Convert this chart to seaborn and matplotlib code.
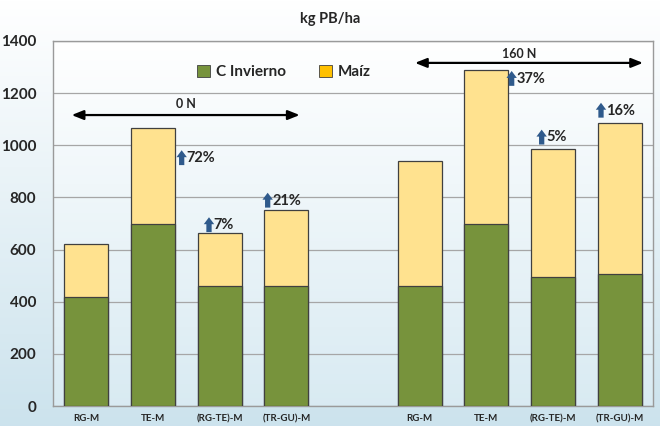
import matplotlib.pyplot as plt
import matplotlib.patches as mpatches
import numpy as np
import pandas as pd
import seaborn as sns

# values (kg PB/ha)
groups = ["0 N", "0 N", "0 N", "0 N", "160 N", "160 N", "160 N", "160 N"]
labels = ["RG-M", "TE-M", "(RG-TE)-M", "(TR-GU)-M", "RG-M", "TE-M", "(RG-TE)-M", "(TR-GU)-M"]
invierno = [420, 700, 460, 460, 460, 700, 495, 505]
maiz = [200, 365, 205, 290, 480, 590, 490, 580]
pct_labels = ["", "72%", "7%", "21%", "", "37%", "5%", "16%"]

GREEN = "#77933c"
YELLOW = "#ffe28f"
YELLOW_LEG = "#ffc000"
EDGE = "#404040"

df = pd.DataFrame({"group": groups, "label": labels, "invierno": invierno, "maiz": maiz})
df["total"] = df["invierno"] + df["maiz"]
df["key"] = df["group"] + " " + df["label"]
order = list(df["key"][:4]) + ["gap"] + list(df["key"][4:])

sns.set_style("white")
plt.rcParams["font.family"] = ["Lato", "DejaVu Sans"]

fig = plt.figure(figsize=(6.6, 4.26), dpi=100)

# figure background gradient
bg = fig.add_axes([0, 0, 1, 1], zorder=-10)
grad = np.linspace(0, 1, 256).reshape(-1, 1)
top = np.array([1.0, 1.0, 1.0])
bot = np.array([0.80, 0.89, 0.93])
img = top + (bot - top) * grad[:, :, None]
bg.imshow(img, aspect="auto", extent=[0, 1, 0, 1])
bg.axis("off")

ax = fig.add_axes([53 / 660, 20 / 426, 600 / 660, 365 / 426])
ax.set_facecolor("none")

sns.barplot(data=df, x="key", y="total", order=order, color=YELLOW, width=0.66,
            edgecolor=EDGE, linewidth=0.9, saturation=1, ax=ax, zorder=3)
sns.barplot(data=df, x="key", y="invierno", order=order, color=GREEN, width=0.66,
            edgecolor=EDGE, linewidth=0.9, saturation=1, ax=ax, zorder=4)

# plot area gradient
pa = np.array([1.0, 1.0, 1.0]) + (np.array([0.85, 0.92, 0.95]) - 1.0) * grad[:, :, None]
ax.imshow(pa, aspect="auto", extent=[-0.5, 8.5, 0, 1400], zorder=0)

ax.set_xlim(-0.5, 8.5)
ax.set_ylim(0, 1400)
ax.set_yticks(range(0, 1401, 200))
ax.set_yticklabels([str(v) for v in range(0, 1401, 200)], fontsize=11, fontweight="bold")
ax.set_xticks(range(9))
ax.set_xticklabels(labels[:4] + [""] + labels[4:], fontsize=7, fontweight="bold")
ax.tick_params(axis="both", length=0)
ax.tick_params(axis="y", pad=12)
ax.tick_params(axis="x", pad=6)
ax.set_xlabel("")
ax.set_ylabel("")
ax.grid(axis="y", color="#a6a6a6", linewidth=0.9, zorder=1)
ax.set_axisbelow(True)
for s in ax.spines.values():
    s.set_color("#9a9a9a")
    s.set_linewidth(1)

fig.text(0.5, 0.955, "kg PB/ha", ha="center", va="center", fontsize=10.5, fontweight="bold")

# group arrows
arrow_kw = dict(arrowstyle="<|-|>,head_width=0.28,head_length=0.7", color="black", lw=1.6,
                shrinkA=0, shrinkB=0)
ax.annotate("", xy=(-0.22, 1116), xytext=(3.2, 1116), arrowprops=arrow_kw, zorder=6)
ax.text(1.5, 1160, "0 N", ha="center", va="center", fontsize=9, fontweight="bold")
ax.annotate("", xy=(4.93, 1316), xytext=(8.35, 1316), arrowprops=arrow_kw, zorder=6)
ax.text(6.5, 1352, "160 N", ha="center", va="center", fontsize=9, fontweight="bold")

# percentage increases
pct_pos = [None, (1.43, 951), (1.84, 694), (2.72, 788), None, (6.38, 1255), (6.83, 1030), (7.72, 1133)]
for txt, pos in zip(pct_labels, pct_pos):
    if not txt:
        continue
    x, y = pos
    ax.annotate("", xy=(x, y + 30), xytext=(x, y - 27),
                arrowprops=dict(arrowstyle="simple,head_width=0.75,head_length=0.5,tail_width=0.38",
                                color="#2f5a8c", lw=0, shrinkA=0, shrinkB=0), zorder=6)
    ax.text(x + 0.07, y, txt, ha="left", va="center", fontsize=10.5, fontweight="bold", zorder=6)

handles = [mpatches.Patch(facecolor=GREEN, edgecolor=EDGE, linewidth=0.6, label="C Invierno"),
           mpatches.Patch(facecolor=YELLOW_LEG, edgecolor=EDGE, linewidth=0.6, label="Maíz")]
leg = ax.legend(handles=handles, loc="center", bbox_to_anchor=(0.385, 0.915), ncol=2, frameon=False,
                prop={"size": 11, "weight": "bold"}, handlelength=0.8, handleheight=0.8,
                handletextpad=0.4, columnspacing=2.2)

fig.savefig("out.png", dpi=100)
